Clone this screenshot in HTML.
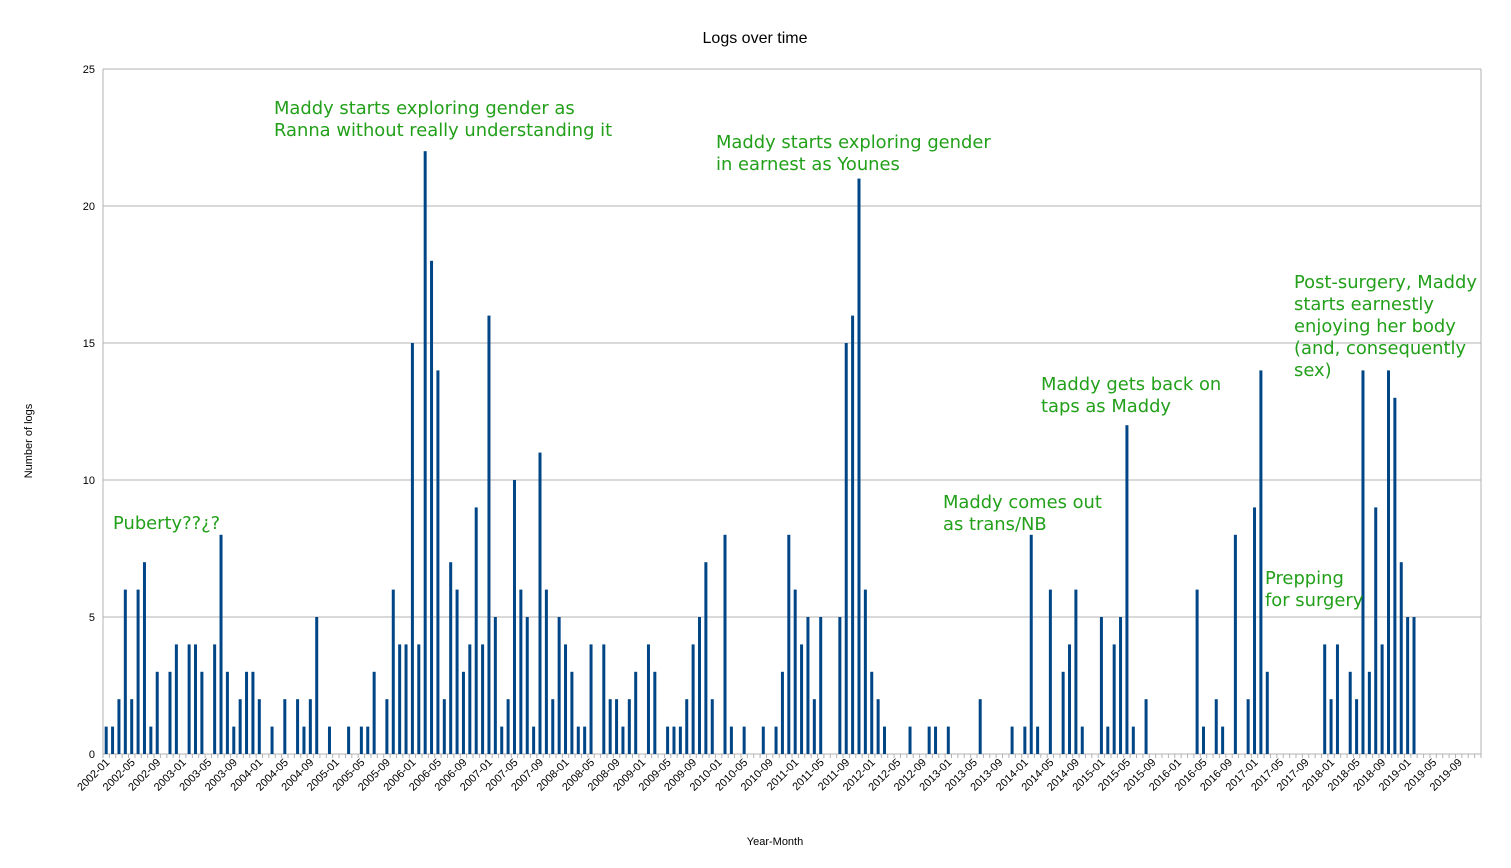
<!DOCTYPE html>
<html><head><meta charset="utf-8"><style>
html,body{margin:0;padding:0;background:#fff;}
svg{display:block;font-family:"Liberation Sans",sans-serif;}
.ann{font-family:"DejaVu Sans","Liberation Sans",sans-serif;font-size:17.9px;fill:#22a01a;}
</style></head><body>
<svg id="c" width="1511" height="868" xmlns="http://www.w3.org/2000/svg">
<rect width="1511" height="868" fill="#fff"/>
<text x="755" y="43" text-anchor="middle" font-size="16">Logs over time</text>
<text x="32" y="441" text-anchor="middle" font-size="11" transform="rotate(-90 32 441)">Number of logs</text>
<text x="775" y="845" text-anchor="middle" font-size="11">Year-Month</text>
<g id="g"></g>
<text class="ann" x="274" y="114">Maddy starts exploring gender as</text>
<text class="ann" x="274" y="136">Ranna without really understanding it</text>
<text class="ann" x="716" y="148">Maddy starts exploring gender</text>
<text class="ann" x="716" y="170">in earnest as Younes</text>
<text class="ann" x="113" y="529">Puberty??¿?</text>
<text class="ann" x="943" y="508">Maddy comes out</text>
<text class="ann" x="943" y="530">as trans/NB</text>
<text class="ann" x="1041" y="390">Maddy gets back on</text>
<text class="ann" x="1041" y="412">taps as Maddy</text>
<text class="ann" x="1265" y="584">Prepping</text>
<text class="ann" x="1265" y="606">for surgery</text>
<text class="ann" x="1294" y="288">Post-surgery, Maddy</text>
<text class="ann" x="1294" y="310">starts earnestly</text>
<text class="ann" x="1294" y="332">enjoying her body</text>
<text class="ann" x="1294" y="354">(and, consequently</text>
<text class="ann" x="1294" y="376">sex)</text>
</svg>
<script>
var d={0:1,1:1,2:2,3:6,4:2,5:6,6:7,7:1,8:3,10:3,11:4,13:4,14:4,15:3,17:4,18:8,19:3,20:1,21:2,22:3,23:3,24:2,26:1,28:2,30:2,31:1,32:2,33:5,35:1,38:1,40:1,41:1,42:3,44:2,45:6,46:4,47:4,48:15,49:4,50:22,51:18,52:14,53:2,54:7,55:6,56:3,57:4,58:9,59:4,60:16,61:5,62:1,63:2,64:10,65:6,66:5,67:1,68:11,69:6,70:2,71:5,72:4,73:3,74:1,75:1,76:4,78:4,79:2,80:2,81:1,82:2,83:3,85:4,86:3,88:1,89:1,90:1,91:2,92:4,93:5,94:7,95:2,97:8,98:1,100:1,103:1,105:1,106:3,107:8,108:6,109:4,110:5,111:2,112:5,115:5,116:15,117:16,118:21,119:6,120:3,121:2,122:1,126:1,129:1,130:1,132:1,137:2,142:1,144:1,145:8,146:1,148:6,150:3,151:4,152:6,153:1,156:5,157:1,158:4,159:5,160:12,161:1,163:2,171:6,172:1,174:2,175:1,177:8,179:2,180:9,181:14,182:3,191:4,192:2,193:4,195:3,196:2,197:14,198:3,199:9,200:4,201:14,202:13,203:7,204:5,205:5};
var L=103,R=1481,T=69,B=754,n=216,w=(R-L)/n,s='';
for(var v=0;v<=25;v+=5){var y=B-v*(B-T)/25;
 s+='<line x1="'+L+'" x2="'+R+'" y1="'+y+'" y2="'+y+'" stroke="#b3b3b3" stroke-width="1"/>';
 s+='<text x="95" y="'+(y+4)+'" text-anchor="end" font-size="11">'+v+'</text>';}
s+='<line x1="'+L+'" x2="'+L+'" y1="'+T+'" y2="'+B+'" stroke="#b3b3b3"/>';
s+='<line x1="'+R+'" x2="'+R+'" y1="'+T+'" y2="'+B+'" stroke="#b3b3b3"/>';
for(var k in d){var x=L+(+k+0.5)*w,h=d[k]*(B-T)/25;
 s+='<rect x="'+(x-1.5)+'" y="'+(B-h)+'" width="3" height="'+h+'" fill="#004586"/>';}
for(var i=0;i<=n;i++){var x=L+i*w;s+='<line x1="'+x+'" x2="'+x+'" y1="'+B+'" y2="'+(B+4)+'" stroke="#b3b3b3"/>';}
for(var i=0;i<n;i+=4){var x=L+(i+0.5)*w,yr=2002+Math.floor(i/12),m=i%12+1;
 var t=yr+'-'+(m<10?'0':'')+m;
 s+='<text x="'+(x+4)+'" y="'+(B+9)+'" text-anchor="end" font-size="11" transform="rotate(-45 '+(x+4)+' '+(B+9)+')">'+t+'</text>';}
document.getElementById('g').innerHTML=s;
</script>
</body></html>
